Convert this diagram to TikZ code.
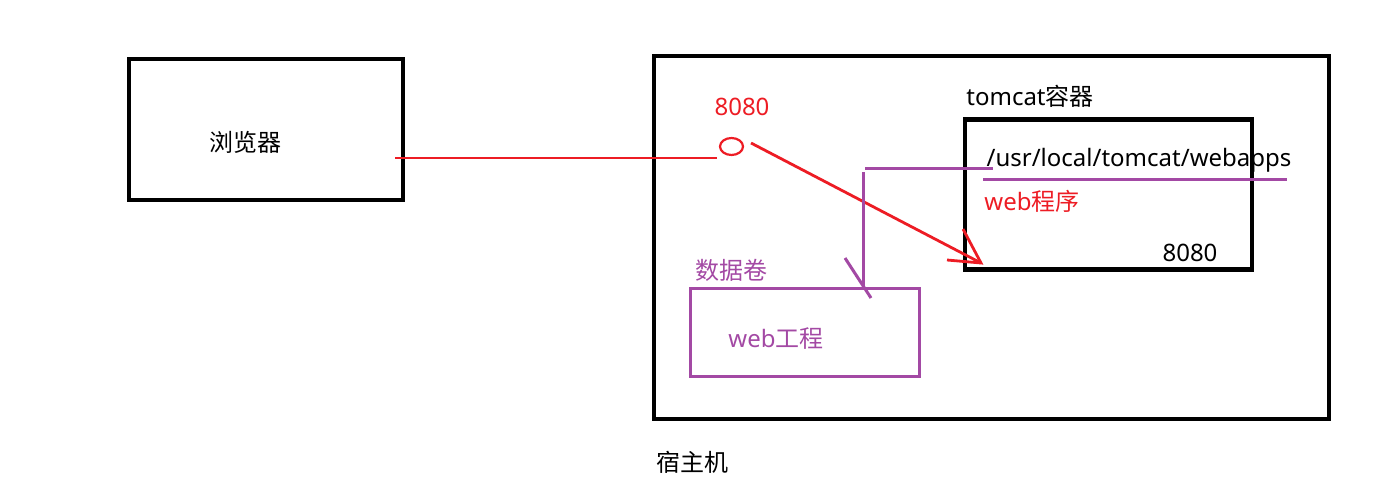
\documentclass[tikz,border=0pt]{standalone}
\usepackage{fontspec}
\usetikzlibrary{shapes.geometric}
\setmainfont{Noto Sans}
\newfontfamily\cjk{Noto Sans CJK SC}
\definecolor{pred}{RGB}{237,28,36}
\definecolor{ppur}{RGB}{163,73,164}
\begin{document}
\begin{tikzpicture}[x=1pt,y=-1pt,
  blackbox/.style={draw=black,line width=4.5pt},
  lbl/.style={inner sep=0pt,font=\fontsize{24}{28}\selectfont},
  redline/.style={draw=pred,line width=2.8pt},
  purline/.style={draw=ppur,line width=3pt}]
\useasboundingbox (0,0) rectangle (1399,484);
% boxes
\draw[blackbox] (129,59) rectangle (403,200);
\draw[blackbox] (654,56) rectangle (1329,419);
\draw[draw=ppur,line width=3pt] (690,288.5) rectangle (919,376);
% texts
\node[lbl] (browser) at (245,142) {\cjk 浏览器};
\node[lbl] (host) at (692,462) {\cjk 宿主机};
\node[lbl,text=ppur] (vol) at (731,270) {\cjk 数据卷};
\node[lbl,text=ppur] (webproj) at (776,339) {web{\cjk 工程}};
\node[lbl,text=pred] (port1) at (742,107) {8080};
\node[lbl] (tomcatlbl) at (1030,96) {tomcat{\cjk 容器}};
\node[lbl] (path) at (1139,160) {/usr/local/tomcat/webapps};
\node[lbl,text=pred] (webprog) at (1032,201) {web{\cjk 程序}};
\node[lbl] (port2) at (1190,253) {8080};
% tomcat box (drawn over text)
\draw[blackbox] (965,119.5) rectangle (1252,269.5);
% red connection
\node[draw=pred,line width=2.2pt,ellipse,minimum width=23pt,minimum height=17pt,inner sep=0pt] (circ) at (731.5,146.5) {};
\coordinate (rl0) at (395,158);
\coordinate (rl1) at (717,158);
\draw[redline] (rl0) -- (rl1);
\coordinate (ra0) at (751,143);
\coordinate (ra1) at (981,263);
\coordinate (rh1) at (963,229);
\coordinate (rh2) at (947,260);
\draw[redline] (ra0) -- (ra1);
\draw[redline] (rh1) -- (ra1) -- (rh2);
% purple mount
\coordinate (pu0) at (983,179);
\coordinate (pu1) at (1287,179);
\draw[purline] (pu0) -- (pu1);
\coordinate (ph0) at (865,168);
\coordinate (ph1) at (993,168);
\draw[purline] (ph0) -- (ph1);
\coordinate (pv0) at (863,172);
\coordinate (pv1) at (863,289);
\draw[purline] (pv0) -- (pv1);
\coordinate (pa0) at (845,258);
\coordinate (pa1) at (871,298);
\draw[purline] (pa0) -- (pa1);
\end{tikzpicture}
\end{document}
